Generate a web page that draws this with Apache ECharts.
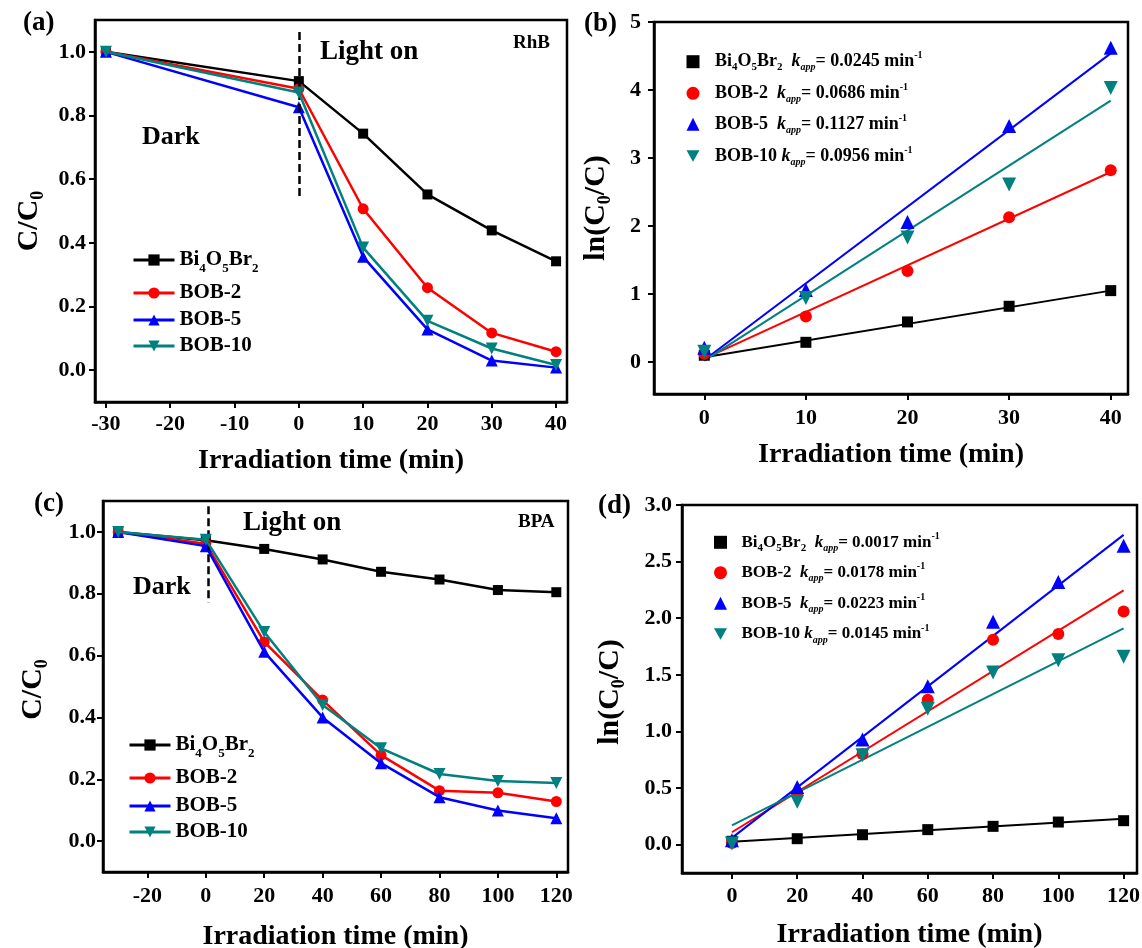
<!DOCTYPE html>
<html>
<head>
<meta charset="utf-8">
<script src="https://cdn.jsdelivr.net/npm/echarts@6/dist/echarts.min.js"></script>
<style>
  html, body { margin: 0; padding: 0; background: #ffffff; }
  #chart { width: 1142px; height: 948px; }
</style>
</head>
<body>
<div id="chart"></div>
<script>
// ---- samples ----
const samples = ['Bi4O5Br2', 'BOB-2', 'BOB-5', 'BOB-10'];

// ---- (a) RhB: C/C0 vs irradiation time ----
const timeRhB = [-30, 0, 10, 20, 30, 40];
const rhbBi4O5Br2 = [1.0, 0.908, 0.743, 0.552, 0.439, 0.342];
const rhbBOB2     = [1.0, 0.884, 0.507, 0.259, 0.117, 0.058];
const rhbBOB5     = [1.0, 0.826, 0.356, 0.128, 0.030, 0.008];
const rhbBOB10    = [1.0, 0.872, 0.385, 0.155, 0.068, 0.016];

// ---- (b) RhB: ln(C0/C) vs time, with linear fits ----
const timeRhBKin = [0, 10, 20, 30, 40];
const lnRhBBi4O5Br2 = [0.10, 0.29, 0.59, 0.82, 1.05];
const lnRhBBOB2     = [0.12, 0.67, 1.34, 2.13, 2.82];
const lnRhBBOB5     = [0.21, 1.06, 2.06, 3.47, 4.62];
const lnRhBBOB10    = [0.15, 0.94, 1.83, 2.61, 4.03];
const kappRhB       = [0.0245, 0.0686, 0.1127, 0.0956];
const fitInterceptRhB = [0.07, 0.05, 0.03, 0.02];

// ---- (c) BPA: C/C0 vs irradiation time ----
const timeBPA = [-30, 0, 20, 40, 60, 80, 100, 120];
const bpaBi4O5Br2 = [1.0, 0.973, 0.945, 0.911, 0.871, 0.846, 0.812, 0.805];
const bpaBOB2     = [1.0, 0.962, 0.644, 0.456, 0.278, 0.163, 0.156, 0.128];
const bpaBOB5     = [1.0, 0.954, 0.612, 0.400, 0.252, 0.142, 0.099, 0.074];
const bpaBOB10    = [1.0, 0.975, 0.676, 0.440, 0.300, 0.217, 0.194, 0.188];

// ---- (d) BPA: ln(C0/C) vs time, with linear fits ----
const timeBPAKin = [0, 20, 40, 60, 80, 100, 120];
const lnBPABi4O5Br2 = [0.03, 0.053, 0.088, 0.133, 0.162, 0.200, 0.212];
const lnBPABOB2     = [0.015, 0.45, 0.80, 1.28, 1.81, 1.86, 2.06];
const lnBPABOB5     = [0.04, 0.51, 0.93, 1.40, 1.97, 2.32, 2.64];
const lnBPABOB10    = [0.01, 0.38, 0.79, 1.20, 1.52, 1.63, 1.66];
const kappBPA       = [0.0017, 0.0178, 0.0223, 0.0145];
const fitInterceptBPA = [0.025, 0.11, 0.06, 0.17];

// ---- tick labels ----
const ticksRhBTime = [-30, -20, -10, 0, 10, 20, 30, 40];
const ticksRhBKinTime = [0, 10, 20, 30, 40];
const ticksBPATime = [-20, 0, 20, 40, 60, 80, 100, 120];
const ticksBPAKinTime = [0, 20, 40, 60, 80, 100, 120];
const ticksRatio = [0, 0.2, 0.4, 0.6, 0.8, 1.0];
const ticksLnRhB = [0, 1, 2, 3, 4, 5];
const ticksLnBPA = [0, 0.5, 1.0, 1.5, 2.0, 2.5, 3.0];

// ---- styling ----
const FONT = "'Liberation Serif', 'Times New Roman', serif";
const colors = ['#000000', '#ff0000', '#0000ff', '#00807f'];
const symbols = ['rect', 'circle', 'triangle', 'triangle'];
const symbolRotate = [0, 0, 0, 180];
// legend icons for the marker-only panels (down-pointing triangle drawn as a path)
const legendIcons = ['rect', 'circle', 'triangle', 'path://M0,0L2,0L1,1.8Z'];
const lineSymbolSize = [10, 11, 12, 12];
const scatterSymbolSize = [11, 12, 14, 14];

function rich(size, L, sub, gapW) {
  const base = { fontFamily: FONT, fontWeight: 'bold', color: '#000' };
  return {
    g:  Object.assign({}, base, { fontSize: size, lineHeight: L, width: gapW || 0 }),
    n:  Object.assign({}, base, { fontSize: size, lineHeight: L }),
    s:  Object.assign({}, base, { fontSize: sub, lineHeight: sub, verticalAlign: 'bottom' }),
    k:  Object.assign({}, base, { fontSize: size, lineHeight: L, fontStyle: 'italic' }),
    ks: Object.assign({}, base, { fontSize: sub - 1, lineHeight: sub - 1, fontStyle: 'italic', verticalAlign: 'bottom' }),
    p:  Object.assign({}, base, { fontSize: sub - 1, lineHeight: sub - 1, verticalAlign: 'top' })
  };
}

function formula(name) {
  if (name === 'Bi4O5Br2') return '{n|Bi}{s|4}{n|O}{s|5}{n|Br}{s|2}';
  return '{n|' + name + '}';
}
function kinLabel(i, k) {
  const gap = samples[i] === 'BOB-10' ? ' ' : '  ';
  return '{g| }' + formula(samples[i]) + '{n|' + gap + '}{k|k}{ks|app}{n|= ' + k.toFixed(4) + ' min}{p|-1}';
}

const pairs = (xs, ys) => xs.map((x, i) => [x, ys[i]]);

const grids = [
  { left: 95,  top: 20,  width: 472, height: 382 },
  { left: 654, top: 22,  width: 474, height: 372 },
  { left: 103, top: 501, width: 465, height: 371 },
  { left: 682, top: 505, width: 455, height: 368 }
].map(g => Object.assign(g, {
  show: true, borderColor: '#000', borderWidth: 2.5, backgroundColor: 'transparent',
  containLabel: false, outerBoundsMode: 'none'
}));

function xAxis(gi, min, max, ticks, labelMargin, nameGap) {
  return {
    type: 'value', gridIndex: gi, min: min, max: max,
    axisLine: { show: true, onZero: false, lineStyle: { color: '#000', width: 2.5 } },
    axisTick: { show: true, inside: false, length: 6, lineStyle: { color: '#000', width: 2 }, customValues: ticks },
    axisLabel: { customValues: ticks, fontFamily: FONT, fontWeight: 'bold', fontSize: 22, color: '#000', margin: labelMargin },
    splitLine: { show: false },
    name: 'Irradiation time (min)', nameLocation: 'middle', nameGap: nameGap,
    nameTextStyle: { fontFamily: FONT, fontWeight: 'bold', fontSize: 28, color: '#000' }
  };
}
function yAxis(gi, min, max, ticks, digits, labelMargin, name, nameGap, shift) {
  const pad = shift >= 0 ? [0, 2 * shift, 0, 0] : [0, 0, 0, -2 * shift];
  return {
    type: 'value', gridIndex: gi, min: min, max: max,
    axisLine: { show: true, onZero: false, lineStyle: { color: '#000', width: 2.5 } },
    axisTick: { show: true, inside: false, length: 6, lineStyle: { color: '#000', width: 2 }, customValues: ticks },
    axisLabel: { customValues: ticks, fontFamily: FONT, fontWeight: 'bold', fontSize: 22, color: '#000', margin: labelMargin,
                 formatter: v => Number(v).toFixed(digits) },
    splitLine: { show: false },
    name: name, nameLocation: 'middle', nameRotate: 90, nameGap: nameGap,
    nameTextStyle: { rich: rich(30, 36, 18), padding: pad }
  };
}

const series = [];
const legends = [];

// line + marker panels (a) and (c)
function decayPanel(gi, tag, times, sets, dashX, dashTop, dashBottom, legendLeft, legendIconW, rows) {
  sets.forEach((vals, i) => {
    const s = {
      type: 'line', name: tag + samples[i], xAxisIndex: gi, yAxisIndex: gi,
      data: pairs(times, vals),
      symbol: symbols[i], symbolSize: lineSymbolSize[i], symbolRotate: symbolRotate[i],
      showAllSymbol: true,
      lineStyle: { color: colors[i], width: 2.5 },
      itemStyle: { color: colors[i] },
      z: 2 + i
    };
    if (i === 0) {
      s.markLine = {
        silent: true, symbol: ['none', 'none'], label: { show: false },
        lineStyle: { color: '#000', width: 2.5, type: [8, 4] },
        data: [[{ coord: [dashX, dashTop] }, { coord: [dashX, dashBottom] }]]
      };
    }
    series.push(s);
    const L = 31;
    legends.push({
      data: [tag + samples[i]], left: legendLeft, top: rows[i] - L / 2, padding: 0,
      itemWidth: legendIconW, itemHeight: 14, selectedMode: false,
      lineStyle: { width: 3 },
      formatter: () => formula(samples[i]),
      textStyle: { rich: rich(21, L, 13) }
    });
  });
}

// scatter + linear fit panels (b) and (d)
function kineticPanel(gi, tag, times, sets, kapp, b0, xEnd, markerX, textX, rows, fontSize) {
  sets.forEach((vals, i) => {
    series.push({
      type: 'line', name: 'fit ' + tag + samples[i], xAxisIndex: gi, yAxisIndex: gi,
      data: [[0, b0[i]], [xEnd, b0[i] + kapp[i] * xEnd]],
      symbol: 'none', lineStyle: { color: colors[i], width: 2 }, z: 2
    });
  });
  const icon = 13;
  const left = markerX - icon / 2;
  const spacer = textX - (left + icon + 5);
  sets.forEach((vals, i) => {
    series.push({
      type: 'scatter', name: tag + samples[i], xAxisIndex: gi, yAxisIndex: gi,
      data: pairs(times, vals),
      symbol: symbols[i], symbolSize: scatterSymbolSize[i], symbolRotate: symbolRotate[i],
      itemStyle: { color: colors[i], opacity: 1 }, z: 3 + i
    });
    const L = 22;
    legends.push({
      data: [{ name: tag + samples[i], icon: legendIcons[i] }],
      left: left, top: rows[i] - L / 2, padding: 0,
      itemWidth: icon, itemHeight: icon, selectedMode: false,
      symbolRotate: 0,
      formatter: () => kinLabel(i, kapp[i]),
      textStyle: { rich: rich(fontSize, L, 11, spacer) }
    });
  });
}

decayPanel(0, 'a ', timeRhB, [rhbBi4O5Br2, rhbBOB2, rhbBOB5, rhbBOB10], 0, 1.062, 0.542, 132, 41, [265, 298, 325, 351]);
kineticPanel(1, 'b ', timeRhBKin, [lnRhBBi4O5Br2, lnRhBBOB2, lnRhBBOB5, lnRhBBOB10], kappRhB, fitInterceptRhB, 40, 693, 715, [61.7, 93.3, 124.3, 156], 18);
decayPanel(2, 'c ', timeBPA, [bpaBi4O5Br2, bpaBOB2, bpaBOB5, bpaBOB10], 1, 1.083, 0.772, 128, 41, [750, 783, 811, 837]);
kineticPanel(3, 'd ', timeBPAKin, [lnBPABi4O5Br2, lnBPABOB2, lnBPABOB5, lnBPABOB10], kappBPA, fitInterceptBPA, 120, 720.5, 741.5, [542.3, 572.7, 603.3, 634], 17);

// panel letters and annotations
function note(text, x, y, size) {
  return {
    type: 'text', x: x, y: y, silent: true, z: 100,
    style: { text: text, font: 'bold ' + size + 'px ' + FONT, fill: '#000',
             textAlign: 'left', textVerticalAlign: 'middle', align: 'left', verticalAlign: 'middle' }
  };
}
const graphics = [
  note('(a)', 23, 23, 27), note('Light on', 320, 52, 27), note('Dark', 142, 137, 26), note('RhB', 513, 43, 19),
  note('(b)', 584, 24, 27),
  note('(c)', 34, 504, 27), note('Light on', 243, 523, 27), note('Dark', 133, 587, 26), note('BPA', 518, 522, 19),
  note('(d)', 598, 506, 27)
];

const chart = echarts.init(document.getElementById('chart'), null, { renderer: 'canvas' });
chart.setOption({
  animation: false,
  backgroundColor: '#ffffff',
  textStyle: { fontFamily: FONT, fontWeight: 'bold' },
  grid: grids,
  xAxis: [
    xAxis(0, -31.7, 41.7, ticksRhBTime, 11, 45),
    xAxis(1, -4.95, 41.7, ticksRhBKinTime, 13, 47),
    xAxis(2, -35.2, 124, ticksBPATime, 13, 51),
    xAxis(3, -15.3, 124.1, ticksBPAKinTime, 12, 48)
  ],
  yAxis: [
    yAxis(0, -0.1, 1.1, ticksRatio, 1, 9, '{n|C/C}{s|0}', 48, 10),
    yAxis(1, -0.47, 5, ticksLnRhB, 0, 13, '{n|ln(C}{s|0}{n|/C)}', 40, 0),
    yAxis(2, -0.1, 1.1, ticksRatio, 1, 7, '{n|C/C}{s|0}', 52, 3),
    yAxis(3, -0.25, 3.0, ticksLnBPA, 1, 10, '{n|ln(C}{s|0}{n|/C)}', 54, 3)
  ],
  legend: legends,
  series: series,
  graphic: graphics
});
</script>
</body>
</html>
